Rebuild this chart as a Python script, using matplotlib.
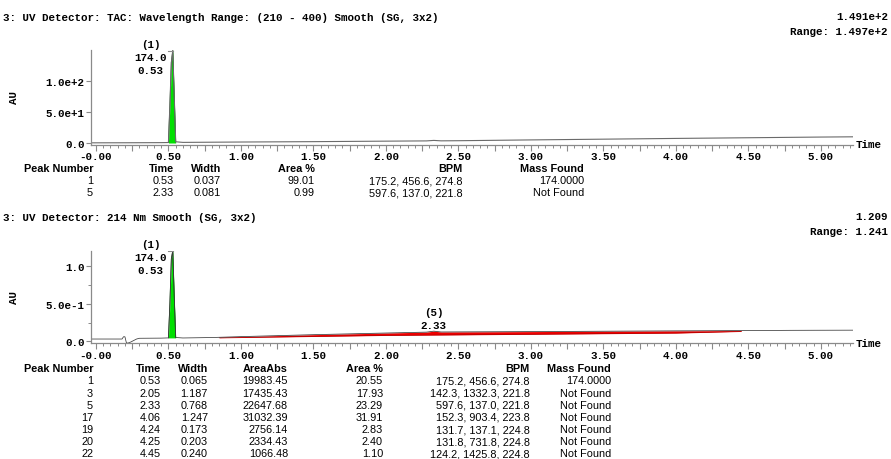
import matplotlib
matplotlib.use("Agg")
import matplotlib.pyplot as plt
import numpy as np

MONO = "Liberation Mono"
SANS = "Liberation Sans"
FS = 7.8

# --- chromatogram traces (time in min) ---
tac_t = [-0.03, 0.20, 0.45, 0.50, 0.51, 0.52, 0.53, 0.54, 0.55, 0.60, 1.00,
         1.50, 2.00, 2.28, 2.33, 2.38, 2.50, 3.00, 3.50, 4.00, 4.50, 5.00, 5.22]
tac_au = [0.3, 0.4, 0.6, 0.8, 60.0, 130.0, 149.1, 75.0, 2.0, 1.0, 1.6,
          2.2, 3.0, 3.4, 4.2, 3.5, 3.7, 5.0, 6.2, 7.4, 8.5, 9.6, 10.0]

uv_t = [-0.03, 0.18, 0.19, 0.20, 0.21, 0.22, 0.24, 0.28, 0.30, 0.45, 0.50,
        0.51, 0.52, 0.53, 0.54, 0.55, 0.60, 0.80, 1.00, 1.50, 2.00, 2.28,
        2.33, 2.38, 2.50, 3.00, 3.50, 4.00, 4.50, 4.80, 5.00, 5.22]
uv_au = [0.030, 0.030, 0.060, 0.060, -0.020, -0.025, -0.010, 0.030, 0.040,
         0.042, 0.045, 0.500, 1.100, 1.209, 0.600, 0.050, 0.044, 0.050,
         0.062, 0.088, 0.110, 0.122, 0.135, 0.124, 0.125, 0.129, 0.134,
         0.139, 0.143, 0.146, 0.147, 0.148]

# integration baseline under the broad peaks (3..22)
base_t = [0.85, 2.00, 3.00, 4.00, 4.45]
base_au = [0.046, 0.078, 0.093, 0.109, 0.131]

# labelled peaks
tac_peak = (0.53, 149.1)
uv_peak1 = (0.53, 1.209)
uv_peak5 = (2.33, 0.135)

# --- peak tables ---
tac_cols = ["Peak Number", "Time", "Width", "Area %", "BPM", "Mass Found"]
tac_rows = [
    ["1", "0.53", "0.037", "99.01", "175.2, 456.6, 274.8", "174.0000"],
    ["5", "2.33", "0.081", "0.99", "597.6, 137.0, 221.8", "Not Found"],
]
uv_cols = ["Peak Number", "Time", "Width", "AreaAbs", "Area %", "BPM", "Mass Found"]
uv_rows = [
    ["1", "0.53", "0.065", "19983.45", "20.55", "175.2, 456.6, 274.8", "174.0000"],
    ["3", "2.05", "1.187", "17435.43", "17.93", "142.3, 1332.3, 221.8", "Not Found"],
    ["5", "2.33", "0.768", "22647.68", "23.29", "597.6, 137.0, 221.8", "Not Found"],
    ["17", "4.06", "1.247", "31032.39", "31.91", "152.3, 903.4, 223.8", "Not Found"],
    ["19", "4.24", "0.173", "2756.14", "2.83", "131.7, 137.1, 224.8", "Not Found"],
    ["20", "4.25", "0.203", "2334.43", "2.40", "131.8, 731.8, 224.8", "Not Found"],
    ["22", "4.45", "0.240", "1066.48", "1.10", "124.2, 1425.8, 224.8", "Not Found"],
]

W, H = 891, 460
fig = plt.figure(figsize=(W / 100, H / 100), dpi=100)


def px(x, y):
    return x / W, 1 - y / H


def style_axes(ax, ylim, yticks, ylabels, yminor=None):
    ax.set_xlim(-0.034, 5.221)
    ax.set_ylim(*ylim)
    ax.patch.set_visible(False)
    for s in ("top", "right"):
        ax.spines[s].set_visible(False)
    for s in ("left", "bottom"):
        ax.spines[s].set_color("#8a8a8a")
        ax.spines[s].set_linewidth(0.9)
    major = np.arange(0, 5.01, 0.25)
    xl = [("-0.00" if v == 0 else f"{v:.2f}") if i % 2 == 0 else ""
          for i, v in enumerate(major)]
    ax.set_xticks(major)
    ax.set_xticklabels(xl)
    ax.set_xticks(np.arange(0, 5.22, 0.05), minor=True)
    ax.set_yticks(yticks)
    ax.set_yticklabels(ylabels)
    if yminor is not None:
        ax.set_yticks(yminor, minor=True)
    ax.tick_params(axis="x", which="major", length=4, width=0.8,
                   color="#8a8a8a", pad=1)
    ax.tick_params(axis="x", which="minor", length=2, width=0.7,
                   color="#8a8a8a")
    ax.tick_params(axis="y", which="major", length=3.5, width=0.8,
                   color="#8a8a8a", pad=1)
    ax.tick_params(axis="y", which="minor", length=2.5, width=0.7,
                   color="#8a8a8a")
    for lab in ax.get_xticklabels() + ax.get_yticklabels():
        lab.set_fontfamily(MONO)
        lab.set_fontweight("bold")
        lab.set_fontsize(FS)
    ax.text(1.004, 0.0, "Time", transform=ax.transAxes, family=MONO,
            weight="bold", fontsize=FS, ha="left", va="center")


def peak_label(ax, peak, lines, dx, dys):
    for txt, dy in zip(lines, dys):
        ax.annotate(txt, xy=peak, xytext=(dx, dy), textcoords="offset pixels",
                    ha="center", va="center", family=MONO, weight="bold",
                    fontsize=FS)


def draw_table(cols, rows, rights, y0, dy):
    for j, c in enumerate(cols):
        fig.text(*px(rights[j], y0), c, family=SANS, weight="bold",
                 fontsize=FS, ha="right", va="center")
    for i, r in enumerate(rows):
        for j, v in enumerate(r):
            fig.text(*px(rights[j], y0 + dy * (i + 1)), v, family=SANS,
                     fontsize=FS, ha="right", va="center")


def header(title, y, val, rng):
    fig.text(*px(3, y), title, family=MONO, weight="bold", fontsize=FS,
             ha="left", va="center")
    fig.text(*px(888, y - 1), val, family=MONO, weight="bold", fontsize=FS,
             ha="right", va="center")
    fig.text(*px(888, y + 14), rng, family=MONO, weight="bold", fontsize=FS,
             ha="right", va="center")


# ---------------- TAC panel ----------------
ax1 = fig.add_axes([91 / W, (H - 145.5) / H, 762 / W, 94.5 / H])
t1 = np.array(tac_t)
a1 = np.array(tac_au)
m1 = (t1 >= 0.50) & (t1 <= 0.55)
ax1.fill_between(t1[m1], 0, a1[m1], color="#00e000", lw=0)
ax1.plot(t1[m1], a1[m1], color="#1a5a1a", lw=0.6)
ax1.plot(t1, a1, color="#6a6a6a", lw=0.8)
ax1.plot([tac_peak[0] - 0.03, tac_peak[0]], [tac_peak[1]] * 2,
         color="#8a8a8a", lw=0.8)
style_axes(ax1, (-2.4, 150.0), [0, 50, 100], ["0.0", "5.0e+1", "1.0e+2"])
peak_label(ax1, tac_peak, ["(1)", "174.0", "0.53"], -22, [7, -6, -19])

header("3: UV Detector: TAC: Wavelength Range: (210 - 400) Smooth (SG, 3x2)",
       18, "1.491e+2", "Range: 1.497e+2")
fig.text(*px(14, 97), "AU", family=MONO, weight="bold", fontsize=FS,
         rotation=90, ha="center", va="center")
draw_table(tac_cols, tac_rows, [93, 174, 221, 315, 463, 584], 169.3, 11.9)

# ---------------- 214 nm panel ----------------
ax2 = fig.add_axes([91 / W, (H - 344) / H, 762 / W, 92 / H])
t2 = np.array(uv_t)
a2 = np.array(uv_au)
m2 = (t2 >= 0.50) & (t2 <= 0.55)
ax2.fill_between(t2[m2], 0.045, a2[m2], color="#00e000", lw=0)
ax2.plot(t2[m2], a2[m2], color="#1a5a1a", lw=0.6)
m3 = (t2 >= base_t[0]) & (t2 <= base_t[-1])
tb = np.concatenate([[base_t[0]], t2[m3], [base_t[-1]]])
sig = np.interp(tb, t2, a2)
bl = np.interp(tb, base_t, base_au)
ax2.fill_between(tb, bl, sig, color="#ee0000", lw=0)
ax2.plot(base_t, base_au, color="#a00000", lw=0.4)
ax2.plot(t2, a2, color="#3a3a3a", lw=0.55)
ax2.plot([uv_peak1[0] - 0.03, uv_peak1[0]], [uv_peak1[1]] * 2,
         color="#8a8a8a", lw=0.8)
style_axes(ax2, (-0.023, 1.204), [0, 0.5, 1.0], ["0.0", "5.0e-1", "1.0"],
           yminor=[0.25, 0.75])
peak_label(ax2, uv_peak1, ["(1)", "174.0", "0.53"], -22, [7, -6, -19])
peak_label(ax2, uv_peak5, ["(5)", "2.33"], 0, [19, 6])

header("3: UV Detector: 214 Nm Smooth (SG, 3x2)", 218, "1.209", "Range: 1.241")
fig.text(*px(14, 298), "AU", family=MONO, weight="bold", fontsize=FS,
         rotation=90, ha="center", va="center")
draw_table(uv_cols, uv_rows, [93, 161, 208, 288, 383, 530, 611], 369.3, 12.15)

fig.savefig("out.png", dpi=100)
